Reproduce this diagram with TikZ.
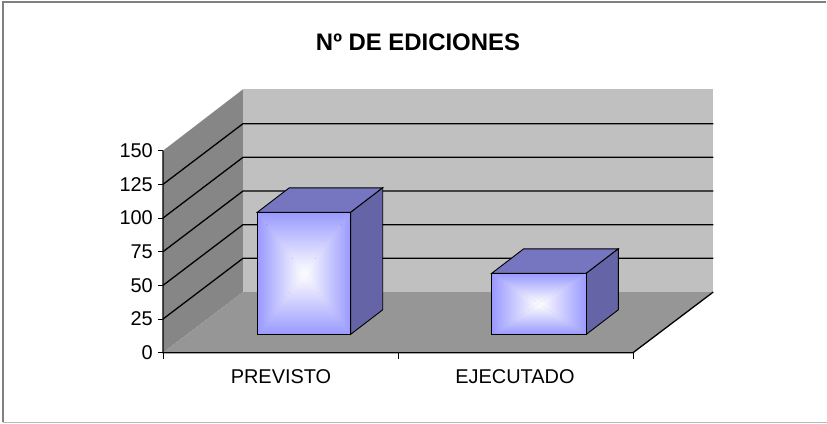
\documentclass[tikz,border=0pt]{standalone}
\usepackage{fontspec}
\setmainfont{Liberation Sans}
\usetikzlibrary{calc}
\tikzset{>=latex}
\definecolor{backwall}{RGB}{192,192,192}
\definecolor{sidewall}{RGB}{134,134,134}
\definecolor{floorgray}{RGB}{150,150,150}
\definecolor{barfront}{RGB}{153,153,255}
\definecolor{bartop}{RGB}{118,118,192}
\definecolor{barside}{RGB}{100,100,166}
\tikzset{
  grid line/.style={draw=black, line width=1.3bp},
  axis line/.style={draw=black, line width=1.3bp},
  bar edge/.style={draw=black, line width=0.9bp},
  axis label/.style={font=\fontsize{20}{24}\selectfont, inner sep=0pt},
}

\begin{document}
\begin{tikzpicture}[x=1bp, y=-1bp]
  \useasboundingbox (0,0) rectangle (827,423);
  % frame
  \draw[gray, line width=1.2bp] (3,422) -- (3,2) -- (826,2);
  \draw[gray!55, line width=1bp] (3,422) -- (827,422);
  % title
  \node[font=\fontsize{24}{28}\selectfont\bfseries] (title) at (418,42.5) {Nº DE EDICIONES};
  % walls and floor
  \fill[sidewall] (163,352.7) -- (163,150.7) -- (243,89.3) -- (243,292) -- cycle;
  \fill[backwall] (243,89.3) rectangle (713.3,292);
  \fill[floorgray] (163,352.7) -- (243,292) -- (713.3,292) -- (633,352.7) -- cycle;
  \foreach \v in {1,...,5}
    \draw[grid line] (163,352.7-\v*33.67) -- (243,292-\v*33.67) -- (713.3,292-\v*33.67);
  \draw[axis line] (163,150.7) -- (163,352.7) -- (633,352.7) -- (713.3,292);
  % y axis
  \foreach \v in {0,...,6}{
    \pgfmathtruncatemacro\lab{25*\v}
    \draw[black, line width=1bp] (157.5,352.7-\v*33.67) -- (163,352.7-\v*33.67);
    \node[axis label, anchor=east] (y\v) at (153,352.7-\v*33.67) {\lab};
  }
  \foreach \x in {163,398,633}
    \draw[black, line width=1bp] (\x,352.7) -- (\x,358.5);
  % bars
  \foreach \name/\xa/\xb/\yt/\lab/\lx in {prev/257.3/350.7/212.3/PREVISTO/281,ejec/491.7/586.3/273.3/EJECUTADO/515}{
    \coordinate (\name-a) at (\xa,\yt);
    \coordinate (\name-b) at (\xb,\yt);
    \coordinate (\name-c) at (\xb,334.3);
    \coordinate (\name-d) at (\xa,334.3);
    \coordinate (\name-m) at ($(\name-a)!0.5!(\name-c)$);
    \filldraw[fill=bartop, bar edge] (\name-a) -- ($(\name-a)+(32,-24.5)$) -- ($(\name-b)+(32,-24.5)$) -- (\name-b) -- cycle;
    \filldraw[fill=barside, bar edge] (\name-b) -- ($(\name-b)+(32,-24.5)$) -- ($(\name-c)+(32,-24.5)$) -- (\name-c) -- cycle;
    \shade[top color=barfront, middle color=barfront!40, bottom color=white] (\name-a) -- (\name-b) -- (\name-m) -- cycle;
    \shade[top color=white, middle color=barfront!40, bottom color=barfront] (\name-d) -- (\name-c) -- (\name-m) -- cycle;
    \shade[left color=barfront, middle color=barfront!40, right color=white] (\name-a) -- (\name-d) -- (\name-m) -- cycle;
    \shade[left color=white, middle color=barfront!40, right color=barfront] (\name-b) -- (\name-c) -- (\name-m) -- cycle;
    \draw[bar edge] (\name-a) rectangle (\name-c);
    \node[axis label] (lab-\name) at (\lx,376.7) {\lab};
  }
\end{tikzpicture}
\end{document}
